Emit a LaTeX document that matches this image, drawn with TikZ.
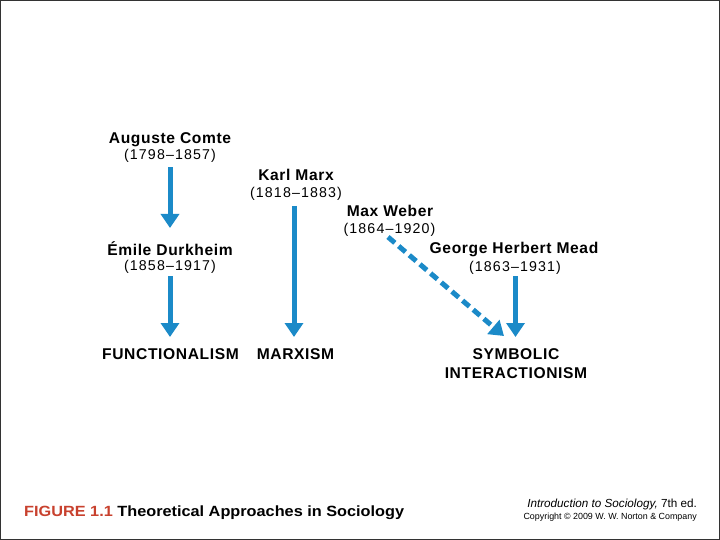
\documentclass[tikz,border=0pt]{standalone}
\usepackage{fontspec}
\setmainfont{Liberation Sans}
\newfontfamily\capfont{Liberation Sans}[FakeStretch=1.1]
\newfontfamily\widefont{Liberation Sans}[LetterSpace=4]
\newfontfamily\yearfont{Liberation Sans}[LetterSpace=8]
\usetikzlibrary{arrows.meta}
\definecolor{arrowblue}{HTML}{1B8AC8}
\definecolor{figred}{HTML}{C8412E}
\tikzset{
  person/.style={font=\widefont\fontsize{15.6}{18}\selectfont\bfseries, inner sep=0pt, anchor=base},
  years/.style={font=\yearfont\fontsize{14.2}{17}\selectfont, inner sep=0pt, anchor=base},
  theory/.style={font=\widefont\fontsize{15.6}{19}\selectfont\bfseries, inner sep=0pt, anchor=base, align=center},
  flow/.style={draw=arrowblue, line width=5pt, -{Triangle[width=18pt,length=14pt]}},
  dflow/.style={flow, dash pattern=on 9pt off 5pt},
}
\begin{document}
\begin{tikzpicture}[x=1pt,y=-1pt]
\useasboundingbox (0,0) rectangle (720,540);
\draw[line width=1.2pt, black!80] (0.6,0.6) rectangle (719.4,539.4);

% people
\node[person] (comte) at (170,144) {Auguste Comte};
\node[years] (comtey) at (170,160) {(1798–1857)};
\node[person] (durk) at (170,255) {Émile Durkheim};
\node[years] (durky) at (170,270.5) {(1858–1917)};
\node[person] (marx) at (296,181) {Karl Marx};
\node[years] (marxy) at (296,197) {(1818–1883)};
\node[person] (weber) at (390,216.5) {Max Weber};
\node[years] (webery) at (389.5,233.5) {(1864–1920)};
\node[person] (mead) at (514,254) {George Herbert Mead};
\node[years] (meady) at (515,271) {(1863–1931)};

% theories
\node[theory] (func) at (170.5,359) {FUNCTIONALISM};
\node[theory] (marxism) at (295.5,359) {MARXISM};
\node[theory] (symb) at (516,378) {SYMBOLIC\\INTERACTIONISM};

% arrows
\coordinate (c1) at (170,167.5);
\coordinate (c2) at (170,228);
\coordinate (d1) at (170,276);
\coordinate (d2) at (170,337);
\coordinate (m1) at (294,206);
\coordinate (m2) at (294,337);
\coordinate (w1) at (388,237);
\coordinate (w2) at (504,336);
\coordinate (g1) at (515.5,276);
\coordinate (g2) at (515.5,337);
\draw[flow] (c1) -- (c2);
\draw[flow] (d1) -- (d2);
\draw[flow] (m1) -- (m2);
\draw[dflow] (w1) -- (w2);
\draw[flow] (g1) -- (g2);

% caption
\node[font=\capfont\fontsize{14.8}{17}\selectfont\bfseries, inner sep=0pt, anchor=base west] (cap) at (24,516)
  {\textcolor{figred}{FIGURE 1.1} Theoretical Approaches in Sociology};
\node[font=\fontsize{11.7}{13}\selectfont, inner sep=0pt, anchor=base east] (book) at (697,507)
  {\textit{Introduction to Sociology,} 7th ed.};
\node[font=\fontsize{8.9}{10}\selectfont, inner sep=0pt, anchor=base east] (copy) at (697,519)
  {Copyright © 2009 W. W. Norton \& Company};
\end{tikzpicture}
\end{document}
